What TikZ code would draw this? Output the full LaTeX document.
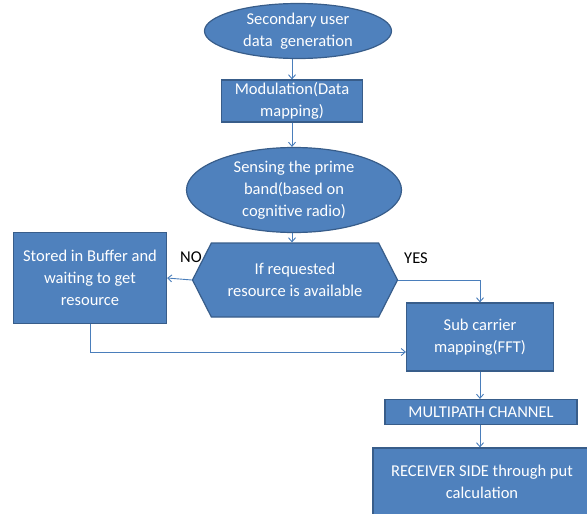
\documentclass[tikz,border=0pt]{standalone}
\usepackage{fontspec}
\setmainfont{Carlito}
\usetikzlibrary{arrows.meta, shapes.geometric, shapes.symbols}
\definecolor{boxblue}{HTML}{4F81BD}
\definecolor{edgeblue}{HTML}{385D8A}
\definecolor{linkblue}{HTML}{4A7EBB}

\begin{document}
\begin{tikzpicture}[x=1pt,y=-1pt,
    >={Straight Barb[length=4pt,width=7pt]},
    every node/.style={font=\fontsize{16.5}{22}\selectfont},
    block/.style={draw=edgeblue, line width=1.2pt, fill=boxblue, text=white, align=center, inner sep=0pt},
    proc/.style={block, rectangle},
    term/.style={block, ellipse},
    choice/.style={block, signal, signal to=east and west, signal pointer angle=126},
    link/.style={->, draw=linkblue, line width=0.9pt}
    ]
    \clip (0,0) rectangle (587,514);

    \node[term, minimum width=187pt, minimum height=55pt] (gen) at (298,31) {Secondary user\\data\ \ generation};
    \node[proc, minimum width=141pt, minimum height=42pt] (modu) at (292,101) {Modulation(Data\\mapping)};
    \node[term, minimum width=215pt, minimum height=85pt] (sense) at (294,190) {Sensing the prime\\band(based on\\cognitive radio)};
    \node[choice, minimum width=205pt, minimum height=74pt] (decide) at (295,280) {If requested\\resource is available};
    \node[proc, minimum width=153pt, minimum height=91pt] (buffer) at (90,278) {Stored in Buffer and\\waiting to get\\resource};
    \node[proc, minimum width=147pt, minimum height=68pt] (subc) at (480,337) {Sub carrier\\mapping(FFT)};
    \node[proc, minimum width=192pt, minimum height=25pt] (multi) at (481,412) {MULTIPATH CHANNEL};
    \node[proc, minimum width=218pt, minimum height=68pt] (recv) at (482,482) {RECEIVER SIDE through put\\calculation};

    \node (no) at (191,257) {NO};
    \node (yes) at (416,258) {YES};

    \draw[link] (gen.south -| modu.north) -- (modu.north);
    \draw[link] (modu.south) -- (modu.south |- sense.north);
    \draw[link] (sense.south -| modu.south) -- (decide.north -| modu.south);
    \draw[link] (decide.west) -- (buffer.east);
    \draw[link] (decide.east) -| (subc.north);
    \draw[link] (buffer.south) |- ([yshift=-15pt]subc.west);
    \draw[link] (subc.south) -- (multi.north -| subc.south);
    \draw[link] (multi.south -| subc.south) -- (recv.north -| subc.south);
\end{tikzpicture}
\end{document}
